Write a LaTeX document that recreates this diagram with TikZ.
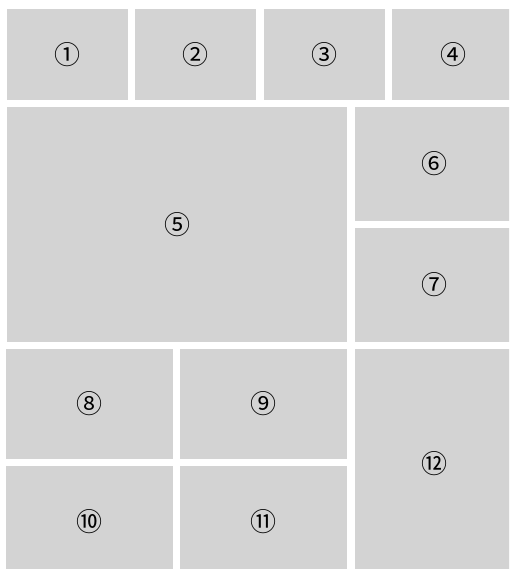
\documentclass[tikz,border=0pt]{standalone}
\usepackage{fontspec}
\newfontfamily\circfont{Noto Sans CJK JP}
\definecolor{panelgray}{HTML}{D3D3D3}
\tikzset{
  panel/.style={fill=panelgray, draw=none, inner sep=0pt, font=\circfont\fontsize{26}{26}\selectfont, text=black},
}
\begin{document}
\begin{tikzpicture}[x=1pt,y=1pt]
\useasboundingbox (0,0) rectangle (509,-569);
\clip (0,0) rectangle (509,-569);
\node[panel, minimum width=121pt, minimum height=91pt] (p1) at (67.5,-54.5) {①};
\node[panel, minimum width=121pt, minimum height=91pt] (p2) at (195.5,-54.5) {②};
\node[panel, minimum width=121pt, minimum height=91pt] (p3) at (324.5,-54.5) {③};
\node[panel, minimum width=122pt, minimum height=91pt] (p4) at (453,-54.5) {④};
\node[panel, minimum width=340pt, minimum height=235pt] (p5) at (177,-224.5) {⑤};
\node[panel, minimum width=159pt, minimum height=114pt] (p6) at (434.5,-164) {⑥};
\node[panel, minimum width=159pt, minimum height=114pt] (p7) at (434.5,-285) {⑦};
\node[panel, minimum width=167pt, minimum height=110pt] (p8) at (89.5,-404) {⑧};
\node[panel, minimum width=167pt, minimum height=110pt] (p9) at (263.5,-404) {⑨};
\node[panel, minimum width=167pt, minimum height=112pt] (p10) at (89.5,-522) {⑩};
\node[panel, minimum width=167pt, minimum height=112pt] (p11) at (263.5,-522) {⑪};
\node[panel, minimum width=159pt, minimum height=229pt] (p12) at (434.5,-463.5) {⑫};
\end{tikzpicture}
\end{document}
